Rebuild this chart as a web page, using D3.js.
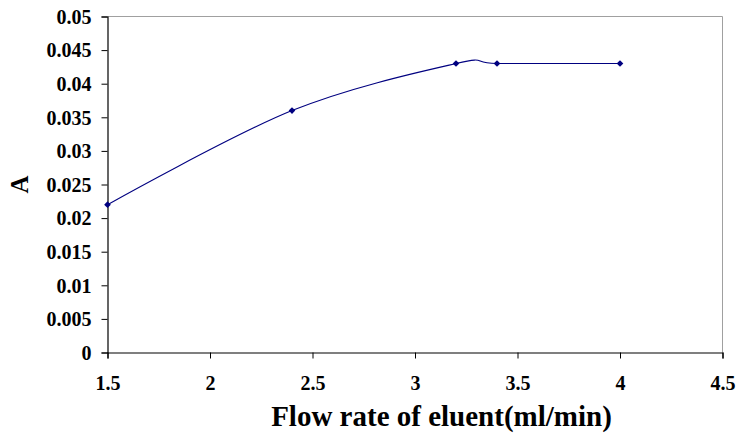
<!DOCTYPE html>
<html><head><meta charset="utf-8">
<script src="https://cdn.jsdelivr.net/npm/d3@7"></script>
<style>body{margin:0;background:#fff}svg{display:block}</style>
</head><body>
<script>
const flowRate = [1.5, 2.4, 3.2, 3.4, 4.0];
const absorbance = [0.022, 0.036, 0.043, 0.043, 0.043];
const xTicks = [1.5, 2, 2.5, 3, 3.5, 4, 4.5];
const yTicks = [0, 0.005, 0.01, 0.015, 0.02, 0.025, 0.03, 0.035, 0.04, 0.045, 0.05];
const xTitle = "Flow rate of eluent(ml/min)";
const yTitle = "A";

const W = 736, H = 434;
const m = {left: 107.5, right: 13.5, top: 16.5, bottom: 81.5};
const svg = d3.select("body").append("svg").attr("width", W).attr("height", H);
const x = d3.scaleLinear().domain([1.5, 4.5]).range([m.left, W - m.right]);
const y = d3.scaleLinear().domain([0, 0.05]).range([H - m.bottom, m.top]);
const font = "'Liberation Serif','Times New Roman',serif";

// top/right frame
svg.append("path")
  .attr("d", `M${x(1.5)},${y(0.05)}H${x(4.5)}V${y(0)}`)
  .attr("fill", "none").attr("stroke", "#a0a0a0").attr("stroke-width", 1);

const fmt = d => String(d);
const gx = svg.append("g").attr("transform", `translate(0,${y(0)})`)
  .call(d3.axisBottom(x).tickValues(xTicks).tickFormat(fmt).tickSize(6));
const gy = svg.append("g").attr("transform", `translate(${x(1.5)},0)`)
  .call(d3.axisLeft(y).tickValues(yTicks).tickFormat(fmt).tickSize(6).tickPadding(10));
[gx, gy].forEach(g => {
  g.select(".domain").attr("stroke", "#000").attr("stroke-width", 1.2);
  g.selectAll(".tick line").attr("stroke", "#000");
  g.selectAll("text").attr("font-family", font).attr("font-weight", "bold")
    .attr("font-size", 20).attr("fill", "#000");
});
gy.selectAll("text").attr("dy", "0.34em");
gx.selectAll("text").attr("y", 37).attr("dy", 0);

const pts = flowRate.map((v, i) => [v, absorbance[i]]);
svg.append("path").datum(pts)
  .attr("d", d3.line().x(d => x(d[0])).y(d => y(d[1])).curve(d3.curveCardinal.tension(0)))
  .attr("fill", "none").attr("stroke", "#000080").attr("stroke-width", 1.1);

svg.selectAll("path.mk").data(pts).enter().append("path").attr("class", "mk")
  .attr("d", d3.symbol().type(d3.symbolSquare).size(22))
  .attr("transform", d => `translate(${x(d[0])},${y(d[1])}) rotate(45)`)
  .attr("fill", "#000080");

svg.append("text").attr("x", 441.5).attr("y", 426)
  .attr("text-anchor", "middle").attr("font-family", font).attr("font-weight", "bold")
  .attr("font-size", 29).text(xTitle);
svg.append("text").attr("transform", `translate(28,${(y(0) + y(0.05)) / 2}) rotate(-90)`)
  .attr("text-anchor", "middle").attr("font-family", font).attr("font-weight", "bold")
  .attr("font-size", 25).text(yTitle);
</script>
</body></html>
